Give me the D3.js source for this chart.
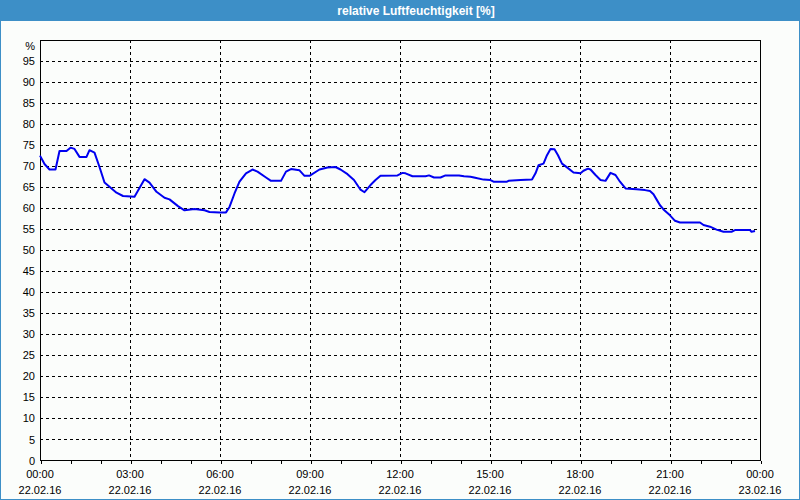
<!DOCTYPE html>
<html>
<head>
<meta charset="utf-8">
<script src="https://cdn.jsdelivr.net/npm/d3@7"></script>
<style>
html,body{margin:0;padding:0;background:#fff;}
svg{display:block;}
text{font-family:"Liberation Sans",Arial,sans-serif;}
</style>
</head>
<body>
<svg id="chart" width="800" height="500"></svg>
<script>
// minutes since 00:00 on 22.02.16
const times = [0,9,19,31,39,53,61,69,79,93,99,109,119,129,139,153,166,189,209,219,233,249,259,276,289,
  309,329,339,359,372,379,389,399,412,425,435,452,462,482,492,502,519,529,539,559,575,591,
  601,615,628,641,649,661,671,681,715,725,731,745,771,778,788,801,811,838,848,861,875,887,
  901,907,934,937,961,984,991,997,1007,1014,1021,1029,1036,1044,1054,1067,1081,1087,1096,1101,
  1111,1121,1131,1141,1151,1160,1171,1193,1210,1220,1227,1233,1240,1247,1260,1270,1280,1320,
  1327,1340,1353,1367,1383,1390,1420,1423,1430];
const humidity = [72.5,70.5,69.2,69.2,73.6,73.6,74.4,74.1,72.2,72.2,73.8,73.2,69.8,66.1,65.1,63.7,62.9,62.7,66.9,66.1,63.9,62.5,62.1,60.5,59.5,
  59.8,59.5,59.1,59.0,59.0,60.3,63.5,66.3,68.3,69.2,68.7,67.3,66.5,66.5,68.7,69.3,69.0,67.7,67.7,69.2,69.7,69.8,
  69.2,68.1,66.7,64.4,63.8,65.5,66.7,67.7,67.8,68.4,68.3,67.6,67.6,67.8,67.3,67.3,67.8,67.8,67.6,67.5,67.1,66.8,
  66.7,66.3,66.3,66.5,66.7,66.8,68.3,70.2,70.6,72.6,74.1,74.0,72.6,70.6,69.7,68.5,68.3,68.9,69.4,69.2,
  67.9,66.7,66.5,68.4,67.9,66.3,64.7,64.5,64.3,64.1,63.3,62.1,60.7,59.7,58.3,57.0,56.6,56.6,
  56.0,55.6,54.9,54.4,54.4,54.8,54.8,54.4,54.6];
const timeTicks = ["00:00","03:00","06:00","09:00","12:00","15:00","18:00","21:00","00:00"];
const dateTicks = ["22.02.16","22.02.16","22.02.16","22.02.16","22.02.16","22.02.16","22.02.16","22.02.16","23.02.16"];
const yTicks = [0,5,10,15,20,25,30,35,40,45,50,55,60,65,70,75,80,85,90,95];
const title = "relative Luftfeuchtigkeit [%]";
const unit = "%";

const W = 800, H = 500;
const L = 40, R = 760, T = 40, B = 460.5;
const svg = d3.select("#chart");
const blue = "#3d8fc7";

svg.append("rect").attr("x",0).attr("y",0).attr("width",W).attr("height",H).attr("fill","#fbfdfb");
svg.append("rect").attr("x",0.5).attr("y",0.5).attr("width",W-1).attr("height",H-1)
  .attr("fill","none").attr("stroke",blue);
svg.append("rect").attr("x",0).attr("y",0).attr("width",W).attr("height",21).attr("fill",blue);
svg.append("text").attr("x",416).attr("y",14.5).attr("text-anchor","middle")
  .attr("fill","#fff").attr("font-size","12px").attr("font-weight","bold").text(title);

const x = d3.scaleLinear().domain([0,1440]).range([L,R]);
const y = d3.scaleLinear().domain([0,100]).range([B,T]);

const g = svg.append("g");
// horizontal grid
g.selectAll("line.hg").data(yTicks.filter(v=>v>0)).enter().append("line")
  .attr("x1",L).attr("x2",R)
  .attr("y1",d=>Math.round(y(d))+0.5).attr("y2",d=>Math.round(y(d))+0.5)
  .attr("stroke","#000").attr("stroke-dasharray","3,3").attr("shape-rendering","crispEdges");
// vertical grid every 3 hours
const major = d3.range(0,1441,180);
g.selectAll("line.vg").data(major.slice(1,-1)).enter().append("line")
  .attr("x1",d=>Math.round(x(d))+0.5).attr("x2",d=>Math.round(x(d))+0.5)
  .attr("y1",T).attr("y2",B)
  .attr("stroke","#000").attr("stroke-dasharray","3,3").attr("shape-rendering","crispEdges");
// frame
g.append("rect").attr("x",L+0.5).attr("y",T+0.5).attr("width",R-L).attr("height",B-T-0.5)
  .attr("fill","none").attr("stroke","#000").attr("shape-rendering","crispEdges");

// x axis with hourly ticks
const xAxis = d3.axisBottom(x).tickValues(d3.range(0,1441,60)).tickSize(3).tickFormat("");
const xg = svg.append("g").attr("transform",`translate(0.5,${Math.round(B)})`).call(xAxis);
xg.select(".domain").remove();
xg.selectAll(".tick line").attr("stroke","#000").attr("shape-rendering","crispEdges");

svg.selectAll("text.tt").data(major).enter().append("text")
  .attr("x",d=>x(d)).attr("y",478).attr("text-anchor","middle")
  .attr("font-size","11px").attr("fill","#000").text((d,i)=>timeTicks[i]);
svg.selectAll("text.dt").data(major).enter().append("text")
  .attr("x",d=>x(d)).attr("y",494).attr("text-anchor","middle")
  .attr("font-size","11px").attr("fill","#000").text((d,i)=>dateTicks[i]);

// y labels
const yAxis = d3.axisLeft(y).tickValues(yTicks).tickSize(0).tickPadding(5).tickFormat(d3.format("d"));
const yg = svg.append("g").attr("transform",`translate(${L},0)`).call(yAxis);
yg.select(".domain").remove();
yg.selectAll("text").attr("font-size","11px").attr("font-family","Liberation Sans, Arial, sans-serif").attr("fill","#000");
svg.append("text").attr("x",35).attr("y",50).attr("text-anchor","end")
  .attr("font-size","11px").attr("fill","#000").text(unit);

// line
const line = d3.line().x((d,i)=>x(times[i])).y(d=>y(d));
svg.append("path").datum(humidity).attr("d",line)
  .attr("fill","none").attr("stroke","#0000f0").attr("stroke-width",2).attr("stroke-linejoin","round");
</script>
</body>
</html>
